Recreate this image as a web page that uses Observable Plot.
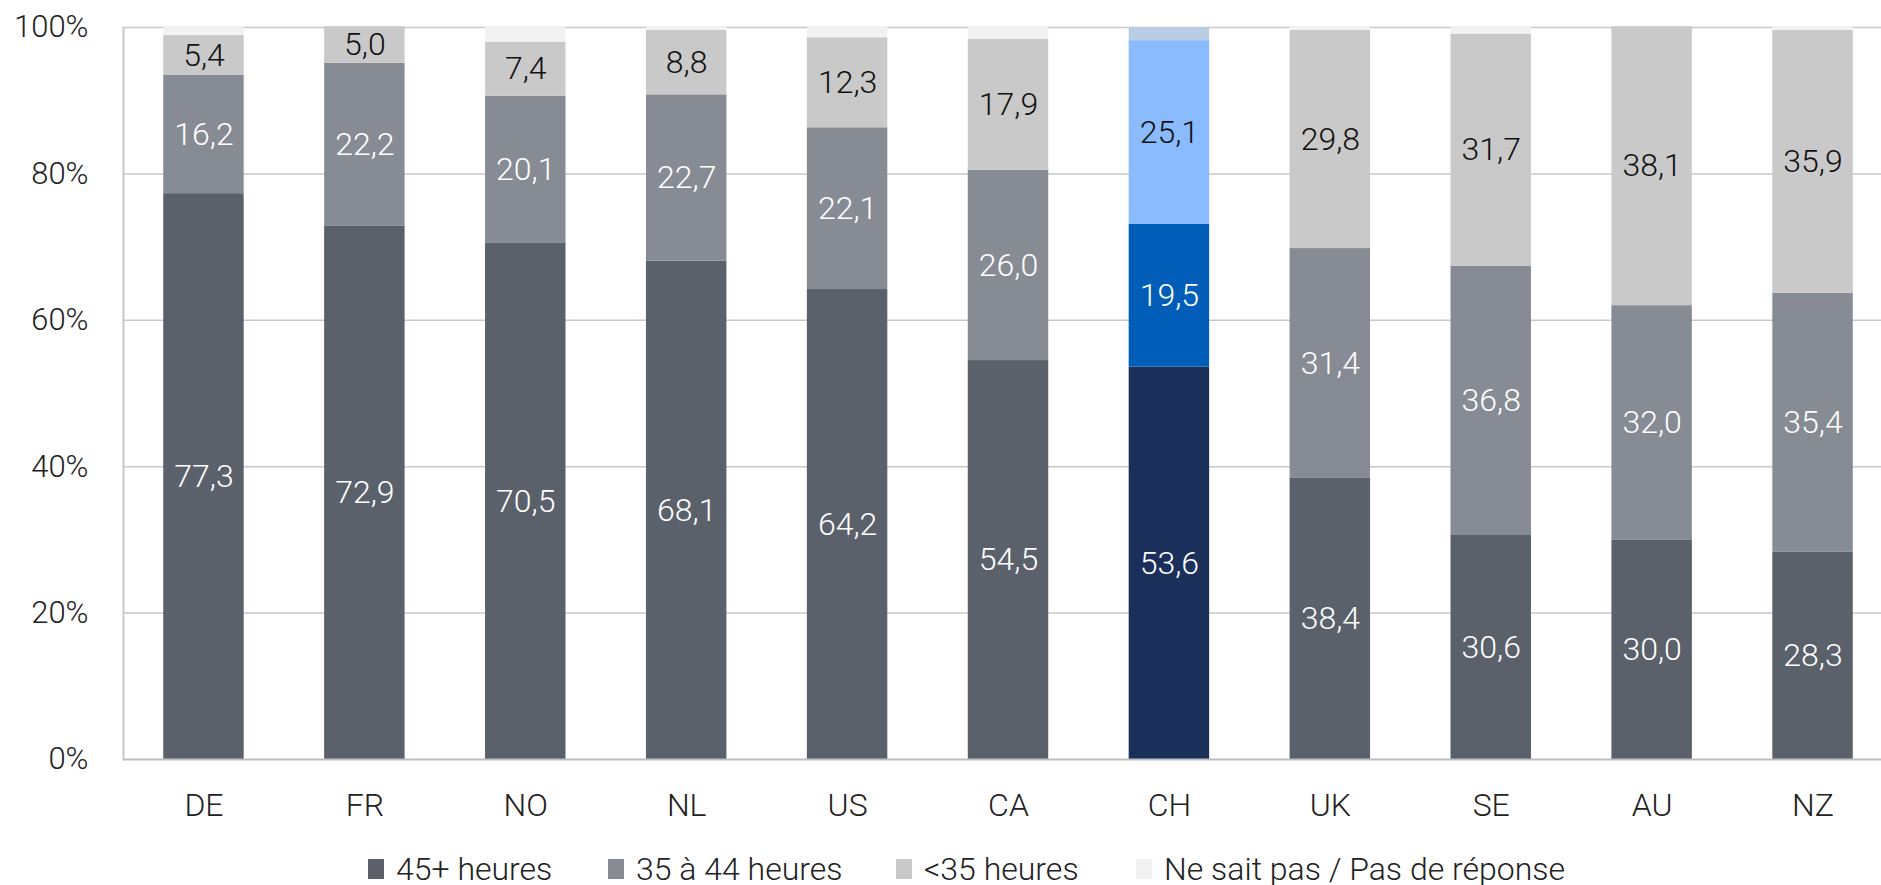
<!DOCTYPE html>
<html>
<head>
<meta charset="utf-8">
<script src="https://cdn.jsdelivr.net/npm/d3@7"></script>
<script src="https://cdn.jsdelivr.net/npm/@observablehq/plot@0.6"></script>
<style>
  html, body { margin: 0; padding: 0; background: #fff; }
  body { width: 1881px; height: 885px; overflow: hidden; position: relative; font-family: Roboto, "Noto Sans", sans-serif; font-weight: 300; }
  #legend { position: absolute; left: 0; top: 849px; height: 40px; width: 1881px; font-size: 32px; color: #222; }
  .item { position: absolute; top: 0; height: 40px; display: flex; align-items: center; white-space: nowrap; }
  .sw { width: 16px; height: 20px; margin-right: 12px; }
</style>
</head>
<body>
<div id="chart"></div>
<div id="legend"></div>
<script>
const countries = ["DE","FR","NO","NL","US","CA","CH","UK","SE","AU","NZ"];
const categories = ["45+ heures","35 à 44 heures","<35 heures","Ne sait pas / Pas de réponse"];
const h45 = [77.3,72.9,70.5,68.1,64.2,54.5,53.6,38.4,30.6,30.0,28.3];
const h35_44 = [16.2,22.2,20.1,22.7,22.1,26.0,19.5,31.4,36.8,32.0,35.4];
const hLt35 = [5.4,5.0,7.4,8.8,12.3,17.9,25.1,29.8,31.7,38.1,35.9];
const nsp = [1.1,0.0,2.0,0.4,1.4,1.6,1.8,0.4,0.9,0.0,0.4];
const yTicks = [0,20,40,60,80,100];

const greyColors = ["#5a616b","#868b94","#c9c9c9","#f2f2f2"];
const chColors = ["#1a2f5a","#005eb8","#8abbff","#b8cce4"];
const greyText = ["#ffffff","#ffffff","#111111",null];
const chText = ["#ffffff","#ffffff","#111111",null];

const series = [h45, h35_44, hLt35, nsp];
const rows = [];
countries.forEach((c, i) => {
  series.forEach((s, k) => {
    const isCH = c === "CH";
    rows.push({
      country: c, cat: categories[k], k, value: s[i],
      fill: (isCH ? chColors : greyColors)[k],
      tfill: (isCH ? chText : greyText)[k],
      label: k < 3 ? s[i].toFixed(1).replace(".", ",") : ""
    });
  });
});

const chart = Plot.plot({
  width: 1881,
  height: 830,
  marginTop: 27,
  marginBottom: 71,
  marginLeft: 123,
  marginRight: 0,
  style: { fontFamily: "Roboto, 'Noto Sans', sans-serif", fontSize: "32px", fontWeight: 300, color: "#222", background: "#fff", overflow: "hidden" },
  x: { domain: countries, range: [123, 1893], round: false, paddingInner: 0.5, paddingOuter: 0.25, label: null },
  y: { domain: [0, 100], ticks: yTicks, tickFormat: d => d + "%", label: null },
  marks: [
    Plot.ruleY(yTicks.filter(d => d > 0), { stroke: "#c8c8c8", strokeWidth: 1.5 }),
    Plot.barY(rows, Plot.stackY({ x: "country", y: "value", z: "cat", order: null, fill: "fill" })),
    Plot.text(rows.filter(d => d.label), Plot.stackY({ x: "country", y: "value", z: "cat", order: null, text: "label", fill: "tfill", fontSize: 32, fontWeight: 300 })),
    Plot.ruleY([0], { stroke: "#bdbdbd", strokeWidth: 2 }),
    Plot.frame({ anchor: "left", stroke: "#c8c8c8", strokeWidth: 2 }),
    Plot.axisY({ ticks: yTicks, tickFormat: d => d + "%", tickSize: 0, tickPadding: 35, fontSize: 31, label: null }),
    Plot.axisX({ tickSize: 0, tickPadding: 34, fontSize: 32, label: null })
  ]
});
document.getElementById("chart").appendChild(chart);

const legend = document.getElementById("legend");
const legendLefts = [368, 608, 896, 1136];
categories.forEach((c, k) => {
  const it = document.createElement("div");
  it.className = "item";
  it.style.left = legendLefts[k] + "px";
  const sw = document.createElement("span");
  sw.className = "sw";
  sw.style.background = greyColors[k];
  const t = document.createElement("span");
  t.textContent = c;
  it.appendChild(sw); it.appendChild(t);
  legend.appendChild(it);
});
</script>
</body>
</html>
